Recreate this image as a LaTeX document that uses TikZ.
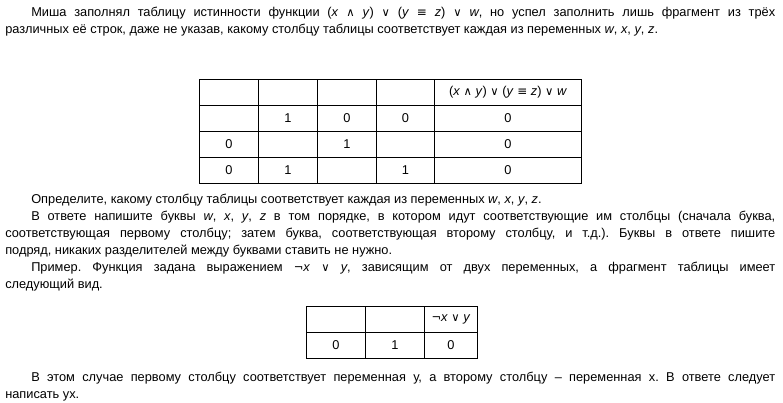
\documentclass[tikz,border=0pt]{standalone}
\usepackage{fontspec}
\setmainfont{Liberation Sans}
\newfontfamily\symf{DejaVu Sans}
\frenchspacing

\newcommand{\bodyfont}{\fontsize{9.6pt}{12.75pt}\selectfont}
\newcommand{\ind}{\hspace*{19.5pt}}
\newcommand{\opand}{{\symf\fontsize{8.6pt}{9pt}\selectfont ∧}}
\newcommand{\opor}{{\symf\fontsize{8.6pt}{9pt}\selectfont ∨}}
\newcommand{\opeq}{{\symf\fontsize{9pt}{9pt}\selectfont ≡}}
\newcommand{\opnot}{{\symf\fontsize{8.6pt}{9pt}\selectfont ¬}}
\newcommand{\fx}{(\textit{x}\ \opand\ \textit{y})\ \opor\ (\textit{y}\ \opeq\ \textit{z})\ \opor\ \textit{w}}

\begin{document}
\begin{tikzpicture}[
    x=0.75pt, y=-0.75pt,
    para/.style={anchor=base west, inner sep=0pt, text width=577.5pt,
                 align=justify, font=\bodyfont},
    cell/.style={draw, line width=0.75pt, anchor=north west, inner sep=0pt,
                 minimum height=19.5pt, font=\bodyfont}
]
\useasboundingbox (0,0) rectangle (783,403);

% Task text
\node[para] (intro) at (5,17) {\ind Миша заполнял таблицу истинности функции
    \fx, но успел заполнить лишь фрагмент из трёх\linebreak
    различных её строк, даже не указав,
    какому столбцу таблицы соответствует каждая из переменных
    \textit{w}, \textit{x}, \textit{y}, \textit{z}.};

% Table 1
\foreach \c/\x/\w/\t in {1/199/59/{}, 2/258/59/{}, 3/317/59/{}, 4/376/58/{}, 5/434/147/{\fx}}
    \node[cell, minimum width=\w*0.75pt] (ta0\c) at (\x,79) {\t};
\foreach \c/\x/\w/\t in {1/199/59/{}, 2/258/59/1, 3/317/59/0, 4/376/58/0, 5/434/147/0}
    \node[cell, minimum width=\w*0.75pt] (ta1\c) at (\x,105) {\t};
\foreach \c/\x/\w/\t in {1/199/59/0, 2/258/59/{}, 3/317/59/1, 4/376/58/{}, 5/434/147/0}
    \node[cell, minimum width=\w*0.75pt] (ta2\c) at (\x,131) {\t};
\foreach \c/\x/\w/\t in {1/199/59/0, 2/258/59/1, 3/317/59/{}, 4/376/58/1, 5/434/147/0}
    \node[cell, minimum width=\w*0.75pt] (ta3\c) at (\x,157) {\t};

% Question and example
\node[para] (rules) at (5,204) {\ind Определите, какому столбцу таблицы соответствует каждая
    из переменных \textit{w}, \textit{x}, \textit{y}, \textit{z}.\par
    \ind В ответе напишите буквы \textit{w}, \textit{x}, \textit{y}, \textit{z} в том порядке,
    в котором идут соответствующие им столбцы (сначала буква,\linebreak соответствующая первому столбцу;
    затем буква, соответствующая второму столбцу, и т.д.). Буквы в ответе пишите\linebreak подряд,
    никаких разделителей между буквами ставить не нужно.\par
    \ind Пример. Функция задана выражением \opnot\textit{x}\ \opor\ \textit{y}, зависящим от двух
    переменных, а фрагмент таблицы имеет\linebreak следующий вид.};

% Table 2
\foreach \c/\x/\w/\t in {1/306/59/{}, 2/365/59/{}, 3/424/53/{\opnot\textit{x} \opor\ \textit{y}}}
    \node[cell, minimum width=\w*0.75pt] (tb0\c) at (\x,306) {\t};
\foreach \c/\x/\w/\t in {1/306/59/0, 2/365/59/1, 3/424/53/0}
    \node[cell, minimum width=\w*0.75pt] (tb1\c) at (\x,332) {\t};

% Answer
\node[para] (answer) at (5,381) {\ind В этом случае первому столбцу соответствует переменная у,
    а второму столбцу – переменная х. В ответе следует\linebreak написать ух.};
\end{tikzpicture}
\end{document}
